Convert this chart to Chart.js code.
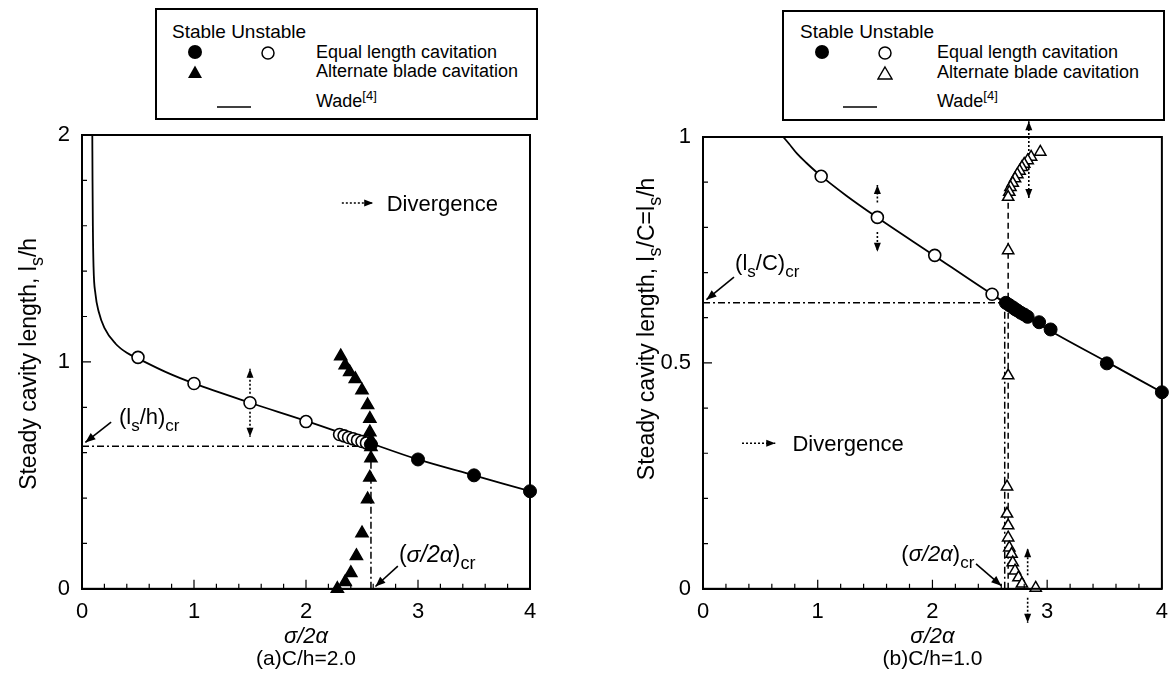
<!DOCTYPE html>
<html>
<head>
<meta charset="utf-8">
<script src="https://cdn.jsdelivr.net/npm/chart.js@4.4.1/dist/chart.umd.min.js"></script>
<style>
  body { margin: 0; background: #fff; }
  #page { position: relative; width: 1170px; height: 677px; overflow: hidden; font-family: "Liberation Sans", Arial, sans-serif; color: #000; }
  .panel { position: absolute; top: 0; width: 585px; height: 677px; }
  .key { position: absolute; box-sizing: border-box; border: 2px solid #000; background: #fff; font-size: 18px; }
  .key .t { position: absolute; white-space: nowrap; line-height: 1; }
  .key .h { font-size: 19px; }
  .key svg { position: absolute; }
  sup { font-size: 13px; vertical-align: 7px; line-height: 0; }
</style>
</head>
<body>
<div id="page">
  <div class="panel" style="left:0"><canvas id="chartA" width="585" height="677"></canvas></div>
  <div class="panel" style="left:585px"><canvas id="chartB" width="585" height="677"></canvas></div>

  <div class="key" style="left:155px;top:8px;width:383px;height:112px">
    <span class="t h" style="left:15px;top:12px">Stable Unstable</span>
    <svg style="left:30px;top:34px" width="16" height="16"><circle cx="8" cy="8" r="7" fill="#000"/></svg>
    <svg style="left:103px;top:35px" width="16" height="16"><circle cx="8" cy="8" r="6" fill="#fff" stroke="#000" stroke-width="1.5"/></svg>
    <span class="t" style="left:159px;top:33px">Equal length cavitation</span>
    <svg style="left:30px;top:54px" width="16" height="16"><polygon points="8,1.5 15,14 1,14" fill="#000"/></svg>
    <span class="t" style="left:159px;top:52px">Alternate blade cavitation</span>
    <svg style="left:60px;top:94px" width="36" height="6"><line x1="0" y1="3" x2="34" y2="3" stroke="#000" stroke-width="1.6"/></svg>
    <span class="t" style="left:159px;top:82px">Wade<sup>[4]</sup></span>
  </div>

  <div class="key" style="left:782px;top:10px;width:383px;height:111px">
    <span class="t h" style="left:16px;top:10px">Stable Unstable</span>
    <svg style="left:30px;top:32px" width="16" height="16"><circle cx="8" cy="8" r="7" fill="#000"/></svg>
    <svg style="left:93px;top:33px" width="16" height="16"><circle cx="8" cy="8" r="6" fill="#fff" stroke="#000" stroke-width="1.5"/></svg>
    <span class="t" style="left:153px;top:31px">Equal length cavitation</span>
    <svg style="left:93px;top:53px" width="16" height="16"><polygon points="8,2 15,14 1,14" fill="#fff" stroke="#000" stroke-width="1.4"/></svg>
    <span class="t" style="left:153px;top:51px">Alternate blade cavitation</span>
    <svg style="left:59px;top:92px" width="36" height="6"><line x1="0" y1="3" x2="34" y2="3" stroke="#000" stroke-width="1.6"/></svg>
    <span class="t" style="left:153px;top:80px">Wade<sup>[4]</sup></span>
  </div>
</div>

<script>
// ---------- panel (a)  C/h = 2.0 ----------
const wadeXA = [0.092, 0.094, 0.097, 0.103, 0.12, 0.15, 0.2, 0.3, 0.4, 0.5, 0.75, 1.0, 1.5, 2.0, 2.5, 3.0, 3.5, 4.0];
const wadeYA = [2.0, 1.8, 1.6, 1.42, 1.3, 1.22, 1.15, 1.08, 1.04, 1.015, 0.955, 0.905, 0.82, 0.74, 0.655, 0.57, 0.5, 0.43];

const unstableXA = [0.5, 1.0, 1.5, 2.0, 2.3, 2.34, 2.38, 2.42, 2.46, 2.5, 2.54];
const unstableYA = [1.02, 0.905, 0.82, 0.737, 0.68, 0.674, 0.667, 0.661, 0.655, 0.649, 0.643];

const stableXA = [2.58, 3.0, 3.5, 4.0];
const stableYA = [0.636, 0.57, 0.5, 0.43];

const altXA = [2.31, 2.35, 2.39, 2.44, 2.5, 2.55, 2.57, 2.57, 2.58, 2.58, 2.58, 2.57, 2.55, 2.5, 2.45, 2.4, 2.35, 2.28];
const altYA = [1.025, 0.985, 0.955, 0.925, 0.875, 0.81, 0.75, 0.69, 0.655, 0.625, 0.575, 0.49, 0.395, 0.245, 0.145, 0.07, 0.03, 0.0];

const critXA = 2.58;   // (sigma/2alpha)cr
const critYA = 0.628;  // (ls/h)cr

// ---------- panel (b)  C/h = 1.0 ----------
const wadeXB = [0.7, 0.75, 0.82, 0.9, 1.0, 1.25, 1.5, 2.0, 2.5, 3.0, 3.5, 4.0];
const wadeYB = [1.0, 0.985, 0.963, 0.943, 0.92, 0.87, 0.825, 0.74, 0.655, 0.575, 0.505, 0.435];

const unstableXB = [1.03, 1.52, 2.02, 2.52];
const unstableYB = [0.913, 0.822, 0.738, 0.652];

const stableXB = [2.64, 2.67, 2.7, 2.72, 2.74, 2.77, 2.8, 2.83, 2.93, 3.03, 3.52, 4.0];
const stableYB = [0.633, 0.628, 0.623, 0.619, 0.616, 0.611, 0.607, 0.602, 0.59, 0.574, 0.499, 0.435];

const altXB = [2.94, 2.86, 2.83, 2.8, 2.78, 2.76, 2.74, 2.72, 2.7, 2.68, 2.67, 2.66, 2.66, 2.66,
               2.65, 2.65, 2.66, 2.66, 2.67, 2.69, 2.7, 2.72, 2.75, 2.78, 2.9];
const altYB = [0.967, 0.956, 0.948, 0.94, 0.933, 0.925, 0.917, 0.908, 0.898, 0.889, 0.878, 0.867, 0.749, 0.472,
               0.226, 0.166, 0.14, 0.113, 0.091, 0.077, 0.058, 0.04, 0.025, 0.011, 0.002];

const critXB = 2.63;
const critYB = 0.633;
const altLineXB = 2.66;  // dashed line through alternate-blade branch
const altLineTopB = 0.87;

// tick labels
const xMajor = [0, 1, 2, 3, 4];
const yMajorA = [0, 1, 2];
const yMajorB = [0, 0.5, 1];

const FONT = '"Liberation Sans", Arial, sans-serif';

function pts(xs, ys) { return xs.map((x, i) => ({ x: x, y: ys[i] })); }

function labelFor(majors) {
  return v => {
    const m = majors.find(t => Math.abs(t - v) < 1e-6);
    return m === undefined ? '' : String(m);
  };
}

// rich text: parts = [[text, kind]], kind '' | 'i' | 'sub' | 'sup'
function rich(ctx, parts, x, y, size, align) {
  const f = k => (k === 'i' ? 'italic ' : '') + Math.round((k === 'sub' || k === 'sup') ? size * 0.78 : size) + 'px ' + FONT;
  let w = 0;
  parts.forEach(p => { ctx.font = f(p[1]); w += ctx.measureText(p[0]).width; });
  let cx = align === 'right' ? x - w : align === 'center' ? x - w / 2 : x;
  ctx.textAlign = 'left';
  ctx.textBaseline = 'alphabetic';
  parts.forEach(p => {
    ctx.font = f(p[1]);
    const dy = p[1] === 'sub' ? size * 0.32 : p[1] === 'sup' ? -size * 0.4 : 0;
    ctx.fillText(p[0], cx, y + dy);
    cx += ctx.measureText(p[0]).width;
  });
}

function head(ctx, x1, y1, x2, y2, len, wid) {
  const a = Math.atan2(y2 - y1, x2 - x1);
  ctx.beginPath();
  ctx.moveTo(x2, y2);
  ctx.lineTo(x2 - len * Math.cos(a) + wid * Math.sin(a), y2 - len * Math.sin(a) - wid * Math.cos(a));
  ctx.lineTo(x2 - len * Math.cos(a) - wid * Math.sin(a), y2 - len * Math.sin(a) + wid * Math.cos(a));
  ctx.closePath();
  ctx.fill();
}

const annot = {
  id: 'annot',
  afterDraw(chart, args, o) {
    const ctx = chart.ctx, xs = chart.scales.x, ys = chart.scales.y, ca = chart.chartArea;
    const px = v => xs.getPixelForValue(v), py = v => ys.getPixelForValue(v);
    ctx.save();
    ctx.fillStyle = '#000';
    ctx.strokeStyle = '#000';

    // frame
    ctx.lineWidth = 2;
    ctx.strokeRect(ca.left, ca.top, ca.right - ca.left, ca.bottom - ca.top);

    // inner ticks
    ctx.lineWidth = 1.2;
    ctx.beginPath();
    xs.ticks.forEach(t => {
      const x = px(t.value), l = t.label ? 9 : 5;
      ctx.moveTo(x, ca.bottom); ctx.lineTo(x, ca.bottom - l);
    });
    ys.ticks.forEach(t => {
      const y = py(t.value), l = t.label ? 9 : 5;
      ctx.moveTo(ca.left, y); ctx.lineTo(ca.left + l, y);
    });
    ctx.stroke();

    // dotted arrows
    ctx.lineWidth = 1.6;
    o.dotted.forEach(a => {
      const x1 = px(a[0]), y1 = py(a[1]), x2 = px(a[2]), y2 = py(a[3]);
      ctx.setLineDash([2, 2]);
      ctx.beginPath(); ctx.moveTo(x1, y1); ctx.lineTo(x2, y2); ctx.stroke();
      ctx.setLineDash([]);
      head(ctx, x1, y1, x2, y2, 9, 3.5);
    });

    // solid pointer arrows
    o.pointers.forEach(a => {
      const x1 = px(a[0]), y1 = py(a[1]), x2 = px(a[2]), y2 = py(a[3]);
      ctx.beginPath(); ctx.moveTo(x1, y1); ctx.lineTo(x2, y2); ctx.stroke();
      head(ctx, x1, y1, x2, y2, 10, 4);
    });

    // labels
    o.labels.forEach(l => rich(ctx, l.parts, px(l.x), py(l.y), l.size, l.align));

    // y title (rotated, with subscripts)
    ctx.translate(o.yTitleX, (ca.top + ca.bottom) / 2 + o.yTitleDy);
    ctx.rotate(-Math.PI / 2);
    rich(ctx, o.yTitle, 0, 0, 23, 'center');
    ctx.restore();
  }
};

function makeChart(id, c) {
  const lineDs = (data, dash, order) => ({
    data, showLine: true, pointRadius: 0, borderColor: '#000', borderWidth: dash ? 1.5 : 1.8,
    borderDash: dash || [], fill: false, order
  });
  return new Chart(document.getElementById(id), {
    type: 'scatter',
    data: {
      datasets: [
        Object.assign(lineDs(c.wade, null, 10), { cubicInterpolationMode: 'monotone' }),
        ...c.refLines.map(r => lineDs(r.data, r.dash, 9)),
        { data: c.unstable, pointStyle: 'circle', pointRadius: 6, backgroundColor: '#fff', borderColor: '#000', borderWidth: 1.6, clip: false, order: 3 },
        { data: c.stable, pointStyle: 'circle', pointRadius: 6.5, backgroundColor: '#000', borderColor: '#000', borderWidth: 1, clip: false, order: 2 },
        { data: c.alt, pointStyle: 'triangle', pointRadius: c.altR, backgroundColor: c.altFill, borderColor: '#000', borderWidth: 1.5, clip: false, order: 1 }
      ]
    },
    options: {
      responsive: false,
      animation: false,
      events: [],
      layout: { padding: c.padding },
      plugins: {
        legend: { display: false },
        tooltip: { enabled: false },
        title: {
          display: true, position: 'bottom', fullSize: false, text: c.caption, color: '#000',
          font: { family: FONT, size: 21, weight: 'normal', lineHeight: 1.2 }, padding: { top: 0, bottom: 5 }
        },
        annot: c.annot
      },
      scales: {
        x: {
          type: 'linear', min: 0, max: 4,
          ticks: { stepSize: 0.2, autoSkip: false, maxRotation: 0, color: '#000', padding: 2,
                   font: { family: FONT, size: 22 }, callback: labelFor(xMajor) },
          grid: { display: false },
          border: { display: true, color: '#000', width: 2 },
          title: { display: true, text: 'σ/2α', color: '#000', font: { family: FONT, size: 22, style: 'italic', lineHeight: 0.9 }, padding: { top: 0, bottom: 0 } },
          afterFit: s => { s.height = c.xHeight; }
        },
        y: {
          type: 'linear', min: 0, max: c.yMax,
          ticks: { stepSize: c.yStep, autoSkip: false, color: '#000', padding: 4,
                   font: { family: FONT, size: 22 }, callback: labelFor(c.yMajor) },
          grid: { display: false },
          border: { display: true, color: '#000', width: 2 },
          afterFit: s => { s.width = c.yWidth; }
        }
      }
    },
    plugins: [annot]
  });
}

const dashDot = [7, 3, 2, 3];

makeChart('chartA', {
  wade: pts(wadeXA, wadeYA),
  unstable: pts(unstableXA, unstableYA),
  stable: pts(stableXA, stableYA),
  alt: pts(altXA, altYA),
  altFill: '#000', altR: 7,
  refLines: [
    { data: [{ x: 0, y: critYA }, { x: critXA, y: critYA }], dash: dashDot },
    { data: [{ x: critXA, y: 0 }, { x: critXA, y: critYA }], dash: dashDot }
  ],
  yMax: 2, yStep: 0.2, yMajor: yMajorA,
  padding: { left: 10, right: 55, top: 135, bottom: 0 },
  yWidth: 72, xHeight: 58,
  caption: '(a)C/h=2.0',
  annot: {
    dotted: [[1.5, 0.86, 1.5, 0.97], [1.5, 0.78, 1.5, 0.67], [2.32, 1.7, 2.6, 1.7]],
    pointers: [[0.26, 0.735, 0.03, 0.645], [2.82, 0.1, 2.62, 0.01]],
    labels: [
      { x: 2.72, y: 1.665, size: 22, align: 'left', parts: [['Divergence', '']] },
      { x: 0.33, y: 0.728, size: 22, align: 'left', parts: [['(l', ''], ['s', 'sub'], ['/h)', ''], ['cr', 'sub']] },
      { x: 2.83, y: 0.12, size: 23, align: 'left', parts: [['(', ''], ['σ/2α', 'i'], [')', ''], ['cr', 'sub']] }
    ],
    yTitleX: 36, yTitleDy: 2,
    yTitle: [['Steady cavity length, l', ''], ['s', 'sub'], ['/h', '']]
  }
});

makeChart('chartB', {
  wade: pts(wadeXB, wadeYB),
  unstable: pts(unstableXB, unstableYB),
  stable: pts(stableXB, stableYB),
  alt: pts(altXB, altYB),
  altFill: '#fff', altR: 6.5,
  refLines: [
    { data: [{ x: 0, y: critYB }, { x: critXB, y: critYB }], dash: dashDot },
    { data: [{ x: critXB, y: 0 }, { x: critXB, y: critYB }], dash: dashDot },
    { data: [{ x: altLineXB, y: 0 }, { x: altLineXB, y: altLineTopB }], dash: [6, 4] }
  ],
  yMax: 1, yStep: 0.1, yMajor: yMajorB,
  padding: { left: 20, right: 7, top: 137, bottom: 0 },
  yWidth: 98, xHeight: 58,
  caption: '(b)C/h=1.0',
  annot: {
    dotted: [[1.52, 0.855, 1.52, 0.894], [1.52, 0.79, 1.52, 0.746],
             [2.84, 0.96, 2.84, 1.035], [2.84, 0.94, 2.84, 0.865],
             [2.83, 0.03, 2.83, 0.09], [2.83, -0.02, 2.83, -0.075],
             [0.34, 0.322, 0.63, 0.322]],
    pointers: [[0.27, 0.69, 0.03, 0.64], [2.38, 0.055, 2.6, 0.007]],
    labels: [
      { x: 0.78, y: 0.306, size: 22, align: 'left', parts: [['Divergence', '']] },
      { x: 0.28, y: 0.705, size: 22, align: 'left', parts: [['(l', ''], ['s', 'sub'], ['/C)', ''], ['cr', 'sub']] },
      { x: 2.365, y: 0.062, size: 22, align: 'right', parts: [['(', ''], ['σ/2α', 'i'], [')', ''], ['cr', 'sub']] }
    ],
    yTitleX: 69, yTitleDy: -34,
    yTitle: [['Steady cavity length, l', ''], ['s', 'sub'], ['/C=l', ''], ['s', 'sub'], ['/h', '']]
  }
});
</script>
</body>
</html>
